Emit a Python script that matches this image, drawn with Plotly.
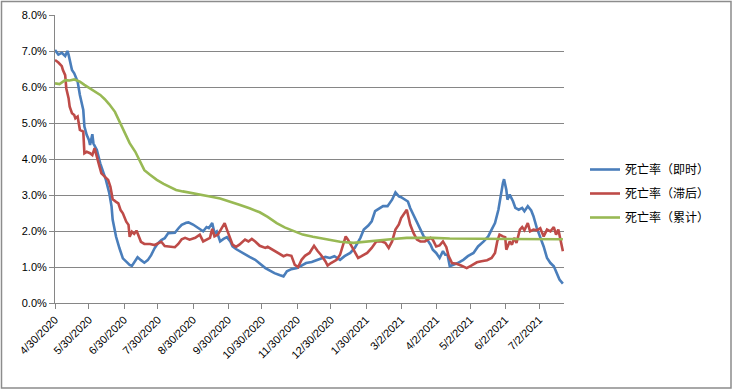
import pandas as pd
import plotly.graph_objects as go

start_date = "2020-04-30"

blue_days = [0,3,6,9,11,12,15,17,20,22,25,26,28,30,31,33,34,37,40,43,45,48,50,51,54,57,60,63,66,68,71,73,76,79,82,85,88,91,94,97,100,103,106,109,112,116,118,122,127,131,134,136,139,141,143,146,149,152,155,157,160,163,168,172,177,181,186,190,194,199,202,205,209,214,218,222,227,230,234,239,243,247,252,256,261,265,270,273,277,280,283,286,290,294,298,301,304,306,309,312,314,317,320,323,326,329,332,334,337,340,343,345,347,349,352,356,361,365,370,374,379,383,386,389,392,394,396,397,399,400,402,405,407,410,413,415,418,421,423,426,429,432,435,438,441,444,446,449]
blue_vals = [7.03,6.9,6.95,6.86,7.0,6.9,6.47,6.38,6.15,5.78,5.36,4.9,4.67,4.53,4.39,4.69,4.43,4.25,3.88,3.6,3.42,3.05,2.68,2.31,1.84,1.52,1.24,1.15,1.06,1.03,1.19,1.27,1.19,1.12,1.19,1.33,1.52,1.66,1.75,1.8,1.94,1.95,1.95,2.07,2.17,2.23,2.24,2.18,2.08,1.99,2.11,2.08,2.22,1.94,1.99,1.71,1.78,1.83,1.71,1.57,1.5,1.44,1.34,1.28,1.2,1.09,0.97,0.9,0.83,0.77,0.74,0.88,0.94,0.97,1.04,1.11,1.14,1.18,1.22,1.28,1.25,1.3,1.2,1.3,1.39,1.53,1.81,2.04,2.15,2.27,2.55,2.61,2.69,2.69,2.87,3.07,2.96,2.94,2.87,2.82,2.64,2.45,2.27,2.04,1.85,1.76,1.62,1.48,1.39,1.25,1.44,1.34,1.34,1.02,1.06,1.11,1.2,1.3,1.39,1.57,1.71,1.85,2.04,2.22,2.59,3.01,3.33,3.44,3.15,2.87,3.01,2.82,2.64,2.59,2.64,2.55,2.69,2.57,2.41,2.08,1.85,1.57,1.25,1.11,1.02,0.79,0.65,0.54]

red_days = [0,3,6,7,9,10,12,13,15,17,18,20,22,25,26,28,31,33,35,37,39,41,44,47,49,51,54,56,58,60,63,65,66,68,70,72,73,76,79,84,88,91,94,97,102,106,109,112,115,119,124,128,131,134,137,139,141,144,147,150,152,155,157,160,163,168,171,174,177,181,186,188,193,197,202,205,209,212,215,218,221,225,229,232,235,239,241,244,249,252,255,257,259,262,265,268,271,276,280,284,289,292,295,298,301,304,306,309,311,314,317,320,323,327,332,334,337,340,343,346,348,351,355,359,364,368,373,377,382,386,389,391,393,396,398,399,402,404,406,408,411,413,415,418,420,423,426,429,432,435,438,441,443,445,447,449]
red_vals = [6.75,6.68,6.58,6.47,6.33,5.96,5.69,5.45,5.27,5.22,5.13,5.18,4.81,4.76,4.16,4.2,4.16,4.11,4.3,4.02,3.83,3.6,3.51,3.42,3.23,2.88,2.81,2.77,2.58,2.49,2.26,2.17,1.84,1.98,1.92,2.01,1.94,1.7,1.64,1.64,1.61,1.66,1.7,1.58,1.56,1.55,1.64,1.77,1.81,1.76,1.81,1.9,1.71,1.76,1.81,2.06,1.85,1.9,2.08,2.22,2.04,1.76,1.62,1.56,1.62,1.76,1.71,1.78,1.71,1.59,1.53,1.56,1.46,1.39,1.3,1.34,1.31,1.06,1.0,1.2,1.31,1.39,1.59,1.45,1.34,1.16,1.04,1.11,1.2,1.34,1.67,1.85,1.76,1.59,1.39,1.25,1.3,1.39,1.53,1.71,1.71,1.67,1.53,1.71,2.04,2.18,2.36,2.48,2.59,2.18,1.94,1.76,1.71,1.71,1.81,1.76,1.57,1.6,1.71,1.55,1.3,1.11,1.09,1.04,0.97,1.04,1.13,1.16,1.19,1.25,1.39,1.71,1.9,1.85,1.83,1.48,1.71,1.62,1.81,1.67,2.04,2.11,2.02,2.22,1.99,2.04,2.02,2.08,1.85,2.04,1.99,2.11,1.9,2.04,1.71,1.44]

green_days = [0,4,9,13,17,22,26,31,35,40,44,48,53,57,62,66,71,75,79,84,90,96,102,107,113,119,128,137,146,155,163,172,181,188,196,203,211,219,228,234,243,252,264,276,287,299,311,323,334,349,380,420,449]
green_vals = [6.1,6.08,6.19,6.18,6.21,6.15,6.06,5.96,5.87,5.78,5.66,5.52,5.31,5.04,4.73,4.44,4.2,3.93,3.69,3.56,3.42,3.31,3.21,3.14,3.1,3.07,3.02,2.96,2.9,2.82,2.73,2.63,2.52,2.39,2.22,2.1,1.99,1.9,1.84,1.8,1.76,1.7,1.67,1.71,1.76,1.78,1.81,1.82,1.81,1.79,1.78,1.78,1.77]

series_names = ["死亡率（即时）", "死亡率（滞后）", "死亡率（累计）"]
series_colors = ["#4A7EBB", "#BE4B48", "#98B954"]

tick_dates = ["2020-04-30","2020-05-30","2020-06-30","2020-07-30","2020-08-30","2020-09-30",
              "2020-10-30","2020-11-30","2020-12-30","2021-01-30","2021-03-02","2021-04-02",
              "2021-05-02","2021-06-02","2021-07-02"]
tick_labels = ["4/30/2020","5/30/2020","6/30/2020","7/30/2020","8/30/2020","9/30/2020",
               "10/30/2020","11/30/2020","12/30/2020","1/30/2021","3/2/2021","4/2/2021",
               "5/2/2021","6/2/2021","7/2/2021"]
y_ticks = [0, 1, 2, 3, 4, 5, 6, 7, 8]
y_tick_labels = ["0.0%", "1.0%", "2.0%", "3.0%", "4.0%", "5.0%", "6.0%", "7.0%", "8.0%"]

t0 = pd.Timestamp(start_date)
def to_dates(days):
    return [t0 + pd.Timedelta(days=d) for d in days]

fig = go.Figure()
for i, (days, vals, name, color) in enumerate([
    (blue_days, blue_vals, series_names[0], series_colors[0]),
    (red_days, red_vals, series_names[1], series_colors[1]),
    (green_days, green_vals, series_names[2], series_colors[2]),
]):
    fig.add_trace(go.Scatter(x=to_dates(days), y=vals, mode="lines", name=name,
                             legendgroup=f"g{i}",
                             line=dict(color=color, width=2.6)))

W, H = 733, 390
L, R, T, B = 55, 169, 15, 87
pw, ph = W - L - R, H - T - B
def px(xp): return (xp - L) / pw
def py(yp): return (H - B - yp) / ph

fig.add_shape(type="rect", xref="paper", yref="paper",
              x0=px(1.5), x1=px(731), y0=py(388), y1=py(1.5),
              line=dict(color="#8C8C8C", width=1.5), fillcolor="rgba(0,0,0,0)")

gray = "#868686"
fig.update_layout(
    width=W, height=H,
    margin=dict(l=L, r=R, t=T, b=B),
    paper_bgcolor="white", plot_bgcolor="white",
    font=dict(family="Liberation Sans, Arial, sans-serif", size=11, color="#000000"),
    showlegend=True,
    legend=dict(x=px(585), y=py(155), xanchor="left", yanchor="top",
                font=dict(family="Noto Sans CJK SC", size=12, color="#000000"),
                bgcolor="rgba(0,0,0,0)", itemwidth=30, tracegroupgap=5),
    xaxis=dict(type="date", automargin=False,
               range=[t0, t0 + pd.Timedelta(days=450)],
               tickmode="array", tickvals=tick_dates, ticktext=tick_labels,
               tickangle=-45, showgrid=False, zeroline=False,
               showline=True, linecolor=gray, linewidth=1,
               ticks="outside", ticklen=5, tickcolor=gray,
               tickfont=dict(size=11)),
    yaxis=dict(range=[0, 8], automargin=False,
               tickmode="array", tickvals=y_ticks, ticktext=y_tick_labels,
               showgrid=True, gridcolor=gray, gridwidth=1, zeroline=False,
               showline=True, linecolor=gray, linewidth=1,
               ticks="outside", ticklen=5, tickcolor=gray,
               tickfont=dict(size=11)),
)

fig.write_html("out.html", config={"displayModeBar": False},
               post_script="document.body.style.margin='0';")
